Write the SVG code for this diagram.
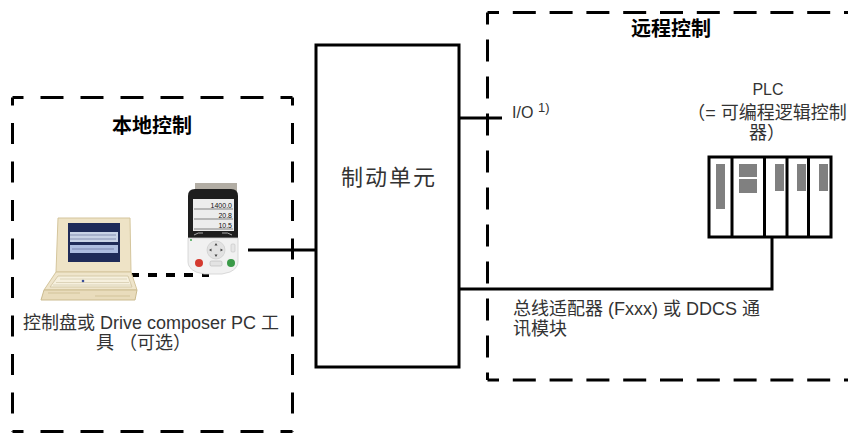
<svg xmlns="http://www.w3.org/2000/svg" width="848" height="439" viewBox="0 0 848 439">
  <style>
    .zone { fill: none; stroke: #000; stroke-width: 3; }
    .zl { stroke-dasharray: 23 17; stroke-dashoffset: 12; }
    .zv { stroke-dasharray: 21 17.5; stroke-dashoffset: 13; }
    .zr { stroke-dasharray: 23 13.8; stroke-dashoffset: 11.5; }
    .zrv { stroke-dasharray: 22 15; stroke-dashoffset: 10; }
    .wire { fill: none; stroke: #000; stroke-width: 3; }
    .link { fill: none; stroke: #000; stroke-width: 4; stroke-dasharray: 9 9; }
    .box { fill: #fff; stroke: #000; stroke-width: 3; }
    .title { font-family: "Liberation Sans", "Noto Sans CJK SC", sans-serif; font-size: 20px; font-weight: bold; fill: #000; }
    .txt { font-family: "Liberation Sans", "Noto Sans CJK SC", sans-serif; font-size: 18px; fill: #333; }
    .unit { font-family: "Liberation Sans", "Noto Sans CJK SC", sans-serif; font-size: 22px; fill: #333; letter-spacing: 2px; }
    .mid { text-anchor: middle; }
    .slot { fill: #fff; stroke: #000; stroke-width: 3; }
    .card { fill: #808080; }
  </style>

  <!-- local control zone -->
  <g id="local-control">
    <line class="zone zl" x1="12.5" y1="97.5" x2="292.5" y2="97.5"/>
    <line class="zone zl" x1="12.5" y1="431.5" x2="292.5" y2="431.5"/>
    <line class="zone zv" x1="12.5" y1="97.5" x2="12.5" y2="431.5"/>
    <line class="zone zv" x1="292.5" y1="97.5" x2="292.5" y2="431.5"/>
    <text class="title mid" x="152" y="133">本地控制</text>
    <text class="txt" x="23" y="329">控制盘或 Drive composer PC 工</text>
    <text class="txt" x="96" y="349">具 （可选）</text>
  </g>

  <!-- remote control zone -->
  <g id="remote-control">
    <line class="zone zr" x1="487.5" y1="12.5" x2="850" y2="12.5"/>
    <line class="zone zr" x1="487.5" y1="380" x2="850" y2="380"/>
    <line class="zone zrv" x1="487.5" y1="12.5" x2="487.5" y2="380"/>
    <text class="title mid" x="671" y="36">远程控制</text>
  </g>

  <!-- connectors -->
  <g id="connectors">
    <line class="wire" x1="248" y1="250" x2="316" y2="250"/>
    <line class="wire" x1="459" y1="118" x2="502" y2="118"/>
    <polyline class="wire" points="459,289 772,289 772,237"/>
    <line class="link" x1="130" y1="275" x2="209" y2="275"/>
    <text class="txt" x="512" y="118" style="font-size:16px">I/O</text>
    <text class="txt" x="538" y="112" style="font-size:13px">1)</text>
    <text class="txt" x="513" y="315">总线适配器 (Fxxx) 或 DDCS 通</text>
    <text class="txt" x="513" y="335">讯模块</text>
  </g>

  <!-- brake unit -->
  <g id="brake-unit">
    <rect class="box" x="316" y="45" width="143" height="322"/>
    <text class="unit mid" x="389" y="185">制动单元</text>
  </g>

  <!-- laptop with commissioning tool -->
  <g id="laptop">
    <path d="M58,218 H130 L131,272 H56 Z" fill="#eee3c6" stroke="#d4c59c" stroke-width="1"/>
    <rect x="68" y="223" width="52" height="39" fill="#1f2b58"/>
    <rect x="70" y="232" width="48" height="10" fill="#c9d3e6"/>
    <rect x="70" y="245" width="48" height="8" fill="#aebde0"/>
    <path d="M70,235 H116 M70,239 H116 M72,249 H114" stroke="#5a6790" stroke-width="0.6"/>
    <path d="M56,272 H131 L137,290 H44 Z" fill="#efe5cb" stroke="#d4c59c" stroke-width="1"/>
    <path d="M58,276 H128 L132,287 H50 Z" fill="#f6f0de" stroke="#cfc39f" stroke-width="0.8"/>
    <path d="M60,279 H127 M56,282.5 H129 M53,285 H131" stroke="#d7cdb0" stroke-width="0.8"/>
    <circle cx="83" cy="281" r="1.3" fill="#3b4f9a"/>
    <path d="M44,290 H137 L135,300 H41 Z" fill="#e9dcbc" stroke="#cbbb8f" stroke-width="1"/>
    <path d="M48,293 H80 M95,296 H130" stroke="#d2c39a" stroke-width="1"/>
  </g>

  <!-- control panel -->
  <g id="panel">
    <rect x="195" y="183" width="42" height="9" fill="#b2ada4"/>
    <path d="M188,196 Q188,189 195,189 H231 Q238,189 238,196 V238 H188 Z" fill="#1e1e1e"/>
    <rect x="193" y="199" width="41" height="32" fill="#ececec"/>
    <path d="M194,209 H233 M194,219 H233 M194,229 H233" stroke="#555" stroke-width="0.7"/>
    <text x="232" y="208" font-family="Liberation Sans, sans-serif" font-size="7" text-anchor="end" fill="#111">1400.0</text>
    <text x="232" y="218" font-family="Liberation Sans, sans-serif" font-size="7" text-anchor="end" fill="#111">20.8</text>
    <text x="232" y="228" font-family="Liberation Sans, sans-serif" font-size="7" text-anchor="end" fill="#111">10.5</text>
    <path d="M188,238 H238 V262 Q238,268 230,272 L222,274 H204 L196,272 Q188,268 188,262 Z" fill="#f1f1f1" stroke="#d0d0d0" stroke-width="0.8"/>
    <path d="M194,235 Q198,232 203,233 M222,233 Q228,232 232,235" stroke="#aaa" stroke-width="1" fill="none"/>
    <circle cx="216" cy="250" r="9" fill="#e2e2e2" stroke="#c8c8c8" stroke-width="0.6"/>
    <path d="M216,243 l-1.5,2.5 h3 Z M216,257 l-1.5,-2.5 h3 Z M209,250 l2.5,-1.5 v3 Z M223,250 l-2.5,-1.5 v3 Z" fill="#444"/>
    <rect x="231" y="244" width="4" height="8" rx="1" fill="#e6e6e6" stroke="#bbb" stroke-width="0.5"/>
    <circle cx="199" cy="263" r="4" fill="#d43a2f"/>
    <circle cx="231" cy="263" r="4" fill="#3a9a48"/>
    <rect x="210" y="261" width="12" height="5" rx="1.5" fill="#e3e3e3" stroke="#aaa" stroke-width="0.5"/>
    <circle cx="191" cy="240" r="0.9" fill="#2a9a3a"/>
  </g>

  <!-- PLC rack -->
  <g id="plc">
    <text class="txt mid" x="768" y="95" style="font-size:16px">PLC</text>
    <text class="txt mid" x="767" y="119">（= 可编程逻辑控制</text>
    <text class="txt mid" x="767" y="139">器）</text>
    <rect class="slot" x="709" y="157" width="122" height="80"/>
    <path d="M732,157 V237 M764.5,157 V237 M787,157 V237 M808.5,157 V237" stroke="#000" stroke-width="3"/>
    <rect class="card" x="716" y="164" width="9" height="45"/>
    <rect class="card" x="739" y="164" width="18" height="13"/>
    <rect class="card" x="739" y="179" width="18" height="14"/>
    <rect class="card" x="775" y="164" width="9" height="27"/>
    <rect class="card" x="797" y="164" width="9" height="27"/>
    <rect class="card" x="819" y="164" width="9" height="27"/>
  </g>
</svg>
